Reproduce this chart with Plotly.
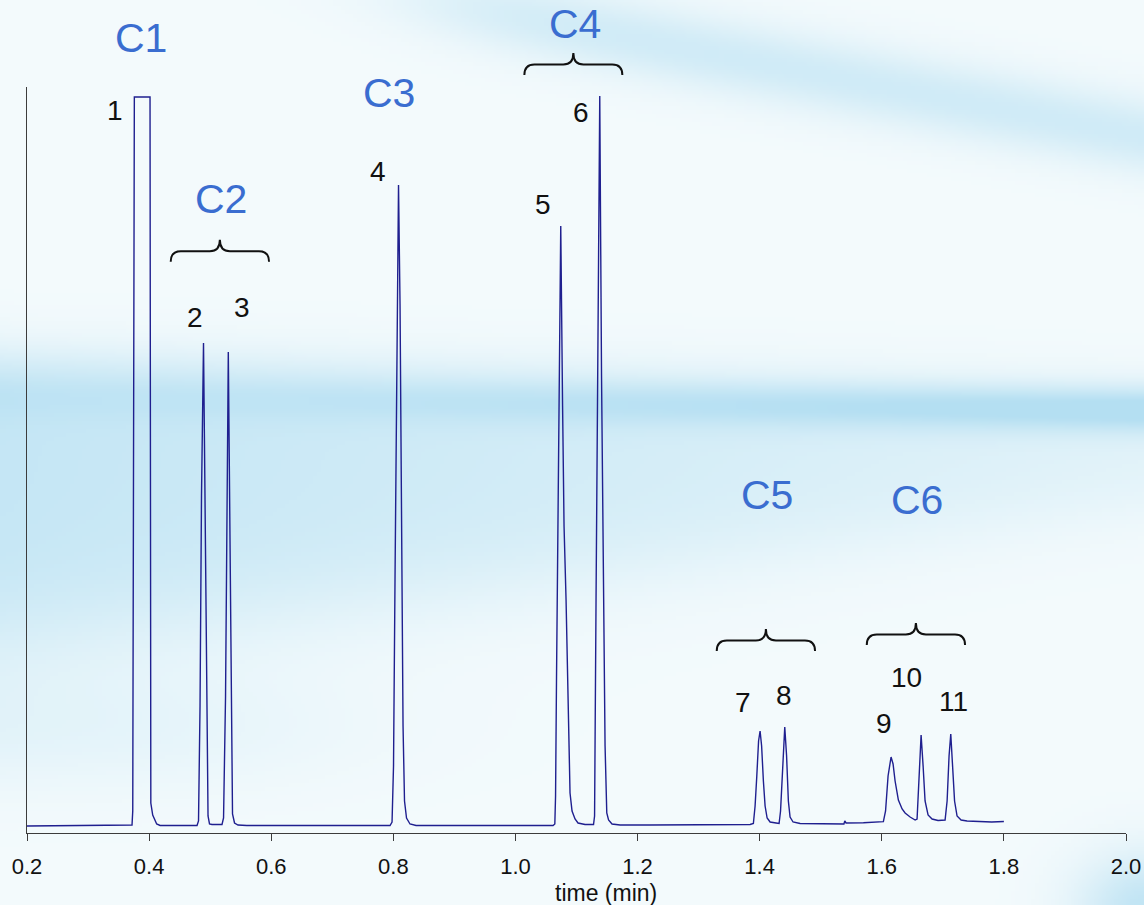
import base64
import struct
import zlib

import numpy as np
import plotly.graph_objects as go

# ---------------- data ----------------
# detector trace: retention time (min) and signal (arbitrary units, baseline = 0)
TIME_MIN = [
    0.200, 0.260, 0.300, 0.340, 0.3704,
    0.3720, 0.3732, 0.3745, 0.3758, 0.4015, 0.4026, 0.4028, 0.4059, 0.4124, 0.4180,
    0.4500, 0.4785,
    0.4809, 0.4834, 0.4858, 0.4891, 0.4915, 0.4940, 0.4965, 0.4989, 0.5030,
    0.5194, 0.5219, 0.5252, 0.5277, 0.5297, 0.5317, 0.5341, 0.5366, 0.5399, 0.5456,
    0.5600, 0.6500, 0.7200, 0.7946,
    0.7979, 0.8003, 0.8028, 0.8061, 0.8085, 0.8110, 0.8134, 0.8159, 0.8183, 0.8216, 0.8273, 0.8372,
    0.9000, 0.9800, 1.0616,
    1.0645, 1.0657, 1.0673, 1.0685, 1.0706, 1.0742, 1.0772, 1.0796, 1.0829, 1.0862,
    1.0894, 1.0927, 1.0976, 1.1025, 1.1140,
    1.1279, 1.1296, 1.1320, 1.1345, 1.1381, 1.1410, 1.1440, 1.1468, 1.1496, 1.1525, 1.1582, 1.1713,
    1.2200, 1.2800, 1.3400, 1.3843,
    1.3897, 1.3925, 1.3953, 1.3982, 1.4007, 1.4032, 1.4061, 1.4089, 1.4122, 1.4171, 1.4269,
    1.4318, 1.4342, 1.4375, 1.4411, 1.4441, 1.4470, 1.4498, 1.4547, 1.4662,
    1.5000, 1.5317, 1.5380, 1.5394, 1.5415, 1.5700, 1.5972,
    1.6026, 1.6062, 1.6103, 1.6152, 1.6185, 1.6218, 1.6272, 1.6333, 1.6382, 1.6464, 1.6546,
    1.6578, 1.6611, 1.6644, 1.6677, 1.6709, 1.6758, 1.6824, 1.6922, 1.6988,
    1.7037, 1.7070, 1.7102, 1.7130, 1.7160, 1.7192, 1.7233, 1.7299, 1.7397,
    1.7600, 1.7800, 1.8000,
]
SIGNAL = [
    0.0, 0.4, 0.2, 0.5, 0.5,
    1.0, 15.0, 400.0, 729.0, 729.0, 400.0, 23.0, 11.0, 2.0, 0.5,
    0.5, 0.5,
    5.0, 120.0, 330.0, 483.0, 330.0, 120.0, 10.0, 2.0, 1.5,
    1.5, 8.0, 130.0, 340.0, 474.0, 340.0, 130.0, 12.0, 3.0, 1.0,
    0.5, 0.5, 0.5, 0.5,
    4.0, 60.0, 250.0, 520.0, 641.0, 520.0, 300.0, 100.0, 25.0, 8.0, 2.0, 0.5,
    0.5, 0.5, 0.5,
    2.0, 30.0, 150.0, 226.0, 380.0, 600.0, 420.0, 300.0, 226.0, 120.0,
    33.0, 15.0, 7.0, 3.0, 1.5,
    1.5, 10.0, 226.0, 450.0, 730.0, 450.0, 226.0, 80.0, 13.0, 6.0, 2.0, 1.0,
    1.0, 1.2, 1.3, 1.5,
    2.5, 20.0, 50.0, 85.0, 95.0, 80.0, 45.0, 20.0, 8.0, 4.0, 3.0,
    2.5, 15.0, 60.0, 99.0, 70.0, 25.0, 9.0, 4.0, 2.5,
    2.3, 1.8, 2.0, 5.0, 3.0, 3.2, 3.8,
    4.3, 15.0, 50.0, 69.0, 62.0, 45.0, 26.0, 17.0, 13.0, 9.0, 6.0,
    7.0, 45.0, 91.0, 60.0, 25.0, 11.0, 7.0, 5.5, 5.5,
    6.0, 25.0, 70.0, 92.0, 65.0, 25.0, 10.0, 6.0, 5.0,
    4.5, 4.0, 4.5,
]

# peak numbers
PEAK_LABELS = ["1", "2", "3", "4", "5", "6", "7", "8", "9", "10", "11"]
PEAK_LABEL_T = [0.344, 0.475, 0.552, 0.775, 1.045, 1.1075, 1.373, 1.440, 1.604, 1.641, 1.717]
PEAK_LABEL_S = [716, 509, 519, 655, 622, 714, 124, 131, 103, 149, 125]

# carbon-number groups (label height given as a fraction of the plot height, measured from the axis)
GROUP_LABELS = ["C1", "C2", "C3", "C4", "C5", "C6"]
GROUP_LABEL_T = [0.3867, 0.5178, 0.793, 1.0976, 1.4121, 1.6578]
GROUP_LABEL_Y = [1.0657, 0.8499, 0.9920, 1.0845, 0.4531, 0.4464]

# braces spanning the grouped peaks: start time, end time, height of the arms (plot fraction)
BRACE_GROUPS = ["C2", "C4", "C5", "C6"]
BRACE_T0 = [0.4354, 1.0146, 1.3297, 1.5754]
BRACE_T1 = [0.5964, 1.1751, 1.4907, 1.7364]
BRACE_Y = [0.7658, 1.0161, 0.2441, 0.2520]

TICK_VALS = [0.2, 0.4, 0.6, 0.8, 1.0, 1.2, 1.4, 1.6, 1.8, 2.0]
TICK_TEXT = ["0.2", "0.4", "0.6", "0.8", "1.0", "1.2", "1.4", "1.6", "1.8", "2.0"]

X_TITLE = "time (min)"

# ---------------- layout constants ----------------
W, H = 1144, 905
ML, MR, MT, MB = 27, 18, 87, 72
PW, PH = W - ML - MR, H - MT - MB
FONT = "Liberation Sans, Arial, Helvetica, sans-serif"
LINE_COL = "#1f1f8f"
GROUP_COL = "#3a6dd0"
AXIS_COL = "#3c3c3c"


# ---------------- soft blue background (decorative) ----------------
def make_background():
    s = 4
    h, w = H // s + 1, W // s + 1
    yy, xx = np.mgrid[0:h, 0:w].astype(float)
    X = xx * s
    Y = yy * s
    fx = X / W

    def sig(z):
        return 1.0 / (1.0 + np.exp(-z))

    inten = np.zeros((h, w))
    # upper streak
    yc = 8 + (X - 480) * 0.19
    inten += 0.55 * np.exp(-((Y - yc) / 38.0) ** 2) * sig((X - 430) / 50.0)
    # broad middle band between a flat top edge and a rising bottom edge
    y_top = 355 + 30 * fx
    y_bot = 645 - 140 * fx
    fill = 0.74 * (1 - fx) + 0.3 * fx
    inten += fill * sig((Y - y_top) / 14.0) * sig((y_bot - Y) / (35 - 15 * fx))
    # sharp streak near the top of the band, strongest on the right
    yc2 = 395 + 14 * fx
    inten += (0.15 + 0.75 * fx ** 1.5) * np.exp(-((Y - yc2) / 22.0) ** 2)
    # faint lower-left haze
    inten += 0.22 * np.exp(-((Y - 730) / 60.0) ** 2) * sig((300 - X) / 80.0)
    # bottom right glow
    inten += 0.8 * np.exp(-(((X - 1150) / 70.0) ** 2 + ((Y - 910) / 55.0) ** 2))
    inten = np.clip(inten, 0, 1)
    c0 = np.array([243, 250, 252], float)
    c1 = np.array([180, 223, 242], float)
    img = (c0[None, None, :] + inten[:, :, None] * (c1 - c0)[None, None, :]).round().astype(np.uint8)
    raw = b"".join(b"\x00" + img[i].tobytes() for i in range(img.shape[0]))

    def chunk(tag, data):
        c = struct.pack(">I", len(data)) + tag + data
        return c + struct.pack(">I", zlib.crc32(tag + data) & 0xFFFFFFFF)

    png = (b"\x89PNG\r\n\x1a\n"
           + chunk(b"IHDR", struct.pack(">IIBBBBB", img.shape[1], img.shape[0], 8, 2, 0, 0, 0))
           + chunk(b"IDAT", zlib.compress(raw, 9))
           + chunk(b"IEND", b""))
    return "data:image/png;base64," + base64.b64encode(png).decode()


def brace_path(t0, t1, y):
    r = 0.0165          # horizontal curl (min)
    dh = 10.5 / PH      # vertical rise of the arms
    tip = 11.5 / PH
    tc = (t0 + t1) / 2
    yh = y + dh
    yt = yh + tip
    return (f"M {t0},{y} Q {t0},{yh} {t0 + r},{yh} L {tc - r},{yh} "
            f"Q {tc},{yh} {tc},{yt} Q {tc},{yh} {tc + r},{yh} "
            f"L {t1 - r},{yh} Q {t1},{yh} {t1},{y}")


fig = go.Figure()
fig.add_trace(go.Scatter(
    x=TIME_MIN, y=SIGNAL, mode="lines",
    line=dict(color=LINE_COL, width=1.4),
    hoverinfo="skip", showlegend=False,
))

annotations = []
for lab, t, s in zip(PEAK_LABELS, PEAK_LABEL_T, PEAK_LABEL_S):
    annotations.append(dict(x=t, y=s, xref="x", yref="y", text=lab, showarrow=False,
                            font=dict(family=FONT, size=28, color="#111111"),
                            xanchor="center", yanchor="middle"))
for lab, t, y in zip(GROUP_LABELS, GROUP_LABEL_T, GROUP_LABEL_Y):
    annotations.append(dict(x=t, y=y, xref="x", yref="paper", text=lab, showarrow=False,
                            font=dict(family=FONT, size=41, color=GROUP_COL),
                            xanchor="center", yanchor="middle"))
annotations.append(dict(x=1.1485, y=-(893 - (H - MB)) / PH, xref="x", yref="paper",
                        text=X_TITLE, showarrow=False,
                        font=dict(family=FONT, size=23, color="#111111"),
                        xanchor="center", yanchor="middle"))

shapes = [dict(type="path", xref="x", yref="paper", path=brace_path(a, b, y),
               line=dict(color="#111111", width=2)) for a, b, y in zip(BRACE_T0, BRACE_T1, BRACE_Y)]

fig.update_layout(
    width=W, height=H, autosize=False,
    margin=dict(l=ML, r=MR, t=MT, b=MB, pad=0, autoexpand=False),
    paper_bgcolor="#f3fafc",
    plot_bgcolor="rgba(0,0,0,0)",
    showlegend=False,
    annotations=annotations,
    shapes=shapes,
    images=[dict(source=make_background(), xref="paper", yref="paper",
                 x=-ML / PW, y=1 + MT / PH, sizex=W / PW, sizey=H / PH,
                 xanchor="left", yanchor="top", sizing="stretch", layer="below")],
    xaxis=dict(range=[0.2, 2.0], showgrid=False, zeroline=False, automargin=False,
               showline=True, linecolor=AXIS_COL, linewidth=1.3,
               ticks="outside", ticklen=7, tickwidth=1.3, tickcolor=AXIS_COL,
               tickvals=TICK_VALS, ticktext=TICK_TEXT, ticklabelstandoff=6,
               tickfont=dict(family=FONT, size=22, color="#111111")),
    yaxis=dict(range=[-7, 739], showgrid=False, zeroline=False, automargin=False,
               showline=True, linecolor=AXIS_COL, linewidth=1.3,
               showticklabels=False, ticks=""),
)

fig.write_html(
    "out.html",
    config={"displayModeBar": False, "responsive": False},
    post_script=("document.documentElement.style.margin='0';"
                 "document.documentElement.style.overflow='hidden';"
                 "document.body.style.margin='0';document.body.style.padding='0';"
                 "document.body.style.overflow='hidden';"),
)
